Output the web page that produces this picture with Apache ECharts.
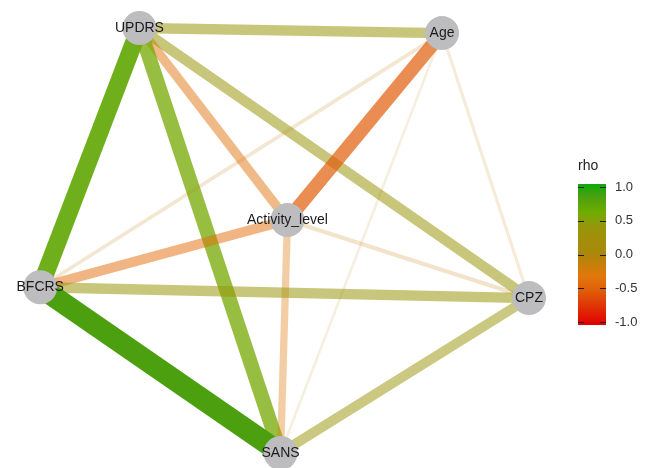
<!DOCTYPE html>
<html>
    <head>
        <meta charset="utf-8">
        <style>
            html, body { margin: 0; padding: 0; background: #fff; }
            #main { width: 651px; height: 468px; }
        </style>
    </head>
    <body>
        <div id="main"></div>
        <script src="https://cdn.jsdelivr.net/npm/echarts@6/dist/echarts.min.js"></script>
        <script>
            // node layout (mds-like coordinates)
            var nodeNames = ['UPDRS', 'Age', 'Activity_level', 'BFCRS', 'CPZ', 'SANS'];
            var nodeX = [-0.59, 0.645, 0.014, -0.995, 1.0, -0.014];
            var nodeY = [1.0, 0.976, 0.096, -0.22, -0.271, -1.0];

            // correlations between pairs
            var edgeFrom = ['UPDRS', 'UPDRS', 'UPDRS', 'UPDRS', 'UPDRS', 'Age', 'Age', 'Age', 'Age',
                'Activity_level', 'Activity_level', 'Activity_level', 'BFCRS', 'BFCRS', 'CPZ'];
            var edgeTo = ['Age', 'Activity_level', 'BFCRS', 'CPZ', 'SANS', 'Activity_level', 'BFCRS', 'CPZ', 'SANS',
                'BFCRS', 'CPZ', 'SANS', 'CPZ', 'SANS', 'SANS'];
            var edgeRho = [0.40, -0.36, 0.68, 0.40, 0.56, -0.52, -0.14, -0.12, -0.10,
                -0.38, -0.16, -0.28, 0.40, 0.82, 0.38];

            // colour scale for rho
            var scaleRho = [-1, -0.5, -0.3, 0, 0.4, 0.6, 0.82, 1];
            var scaleColors = ['#e00000', '#e0600a', '#e2780c', '#ac860a', '#98960a', '#6eac02', '#4ca010', '#0aaa0a'];
            var rhoTicks = [-1, -0.5, 0, 0.5, 1];

            function hexRgb(h) {
                return [parseInt(h.substr(1, 2), 16), parseInt(h.substr(3, 2), 16), parseInt(h.substr(5, 2), 16)];
            }
            function rhoColor(r) {
                for (var i = 0; i < scaleRho.length - 1; i++) {
                    if (r <= scaleRho[i + 1]) {
                        var t = (r - scaleRho[i]) / (scaleRho[i + 1] - scaleRho[i]);
                        var a = hexRgb(scaleColors[i]), b = hexRgb(scaleColors[i + 1]);
                        return 'rgb(' + a.map(function (v, k) {
                            return Math.round(v + (b[k] - v) * t);
                        }).join(',') + ')';
                    }
                }
                return scaleColors[scaleColors.length - 1];
            }

            var nodes = nodeNames.map(function (n, i) {
                return { name: n, value: [nodeX[i], nodeY[i]] };
            });
            var links = edgeRho.map(function (r, i) {
                var m = Math.abs(r);
                return {
                    source: edgeFrom[i],
                    target: edgeTo[i],
                    lineStyle: {
                        color: rhoColor(r),
                        width: 26 * m,
                        opacity: Math.min(1, 1.35 * m),
                        cap: 'butt'
                    }
                };
            });

            var lo = rhoTicks[0], hi = rhoTicks[rhoTicks.length - 1];
            var barStops = scaleRho.map(function (r, i) {
                return { offset: (hi - r) / (hi - lo), color: scaleColors[i] };
            }).reverse();

            var chart = echarts.init(document.getElementById('main'));
            chart.setOption({
                animation: false,
                textStyle: { fontFamily: 'Liberation Sans' },
                title: {
                    text: 'rho',
                    left: 578,
                    top: 159,
                    padding: 0,
                    textStyle: { fontSize: 14, fontWeight: 'normal', color: '#222', fontFamily: 'Liberation Sans' }
                },
                grid: [
                    { left: 39, top: 28, width: 490, height: 425 },
                    { left: 578, top: 187, width: 28, height: 135 }
                ],
                xAxis: [
                    { gridIndex: 0, type: 'value', min: -1, max: 1, show: false },
                    { gridIndex: 1, type: 'value', min: 0, max: 1, show: false }
                ],
                yAxis: [
                    { gridIndex: 0, type: 'value', min: -1, max: 1, show: false },
                    {
                        gridIndex: 1, type: 'value', min: lo, max: hi, interval: 0.5, position: 'right',
                        axisLine: { show: false },
                        splitLine: { show: false },
                        axisTick: { show: false },
                        axisLabel: {
                            margin: 9, fontSize: 13, color: '#333', fontFamily: 'Liberation Sans',
                            formatter: function (v) { return v.toFixed(1); }
                        }
                    }
                ],
                series: [{
                    type: 'graph',
                    coordinateSystem: 'cartesian2d',
                    xAxisIndex: 0,
                    yAxisIndex: 0,
                    symbol: 'circle',
                    symbolSize: 34,
                    itemStyle: { color: '#bdbdbf' },
                    label: {
                        show: true,
                        position: 'inside',
                        fontSize: 14,
                        color: '#1a1a1a',
                        fontFamily: 'Liberation Sans'
                    },
                    emphasis: { disabled: true },
                    data: nodes,
                    links: links
                }, {
                    type: 'custom',
                    xAxisIndex: 1,
                    yAxisIndex: 1,
                    clip: false,
                    data: [[lo, hi]],
                    renderItem: function (params, api) {
                        var cs = params.coordSys;
                        var top = api.coord([0, api.value(1)])[1] - 3;
                        var bottom = api.coord([0, api.value(0)])[1] + 3;
                        var children = [{
                            type: 'rect',
                            shape: { x: cs.x, y: top, width: cs.width, height: bottom - top },
                            style: { fill: new echarts.graphic.LinearGradient(0, 0, 0, 1, barStops) }
                        }];
                        rhoTicks.forEach(function (t) {
                            var y = Math.round(api.coord([0, t])[1]) + 0.5;
                            children.push({
                                type: 'line',
                                shape: { x1: cs.x, y1: y, x2: cs.x + 6, y2: y },
                                style: { stroke: '#1a1a1a', lineWidth: 1 }
                            }, {
                                type: 'line',
                                shape: { x1: cs.x + cs.width - 6, y1: y, x2: cs.x + cs.width, y2: y },
                                style: { stroke: '#1a1a1a', lineWidth: 1 }
                            });
                        });
                        return { type: 'group', children: children };
                    }
                }]
            });

            window.onresize = chart.resize;
        </script>
    </body>
</html>
